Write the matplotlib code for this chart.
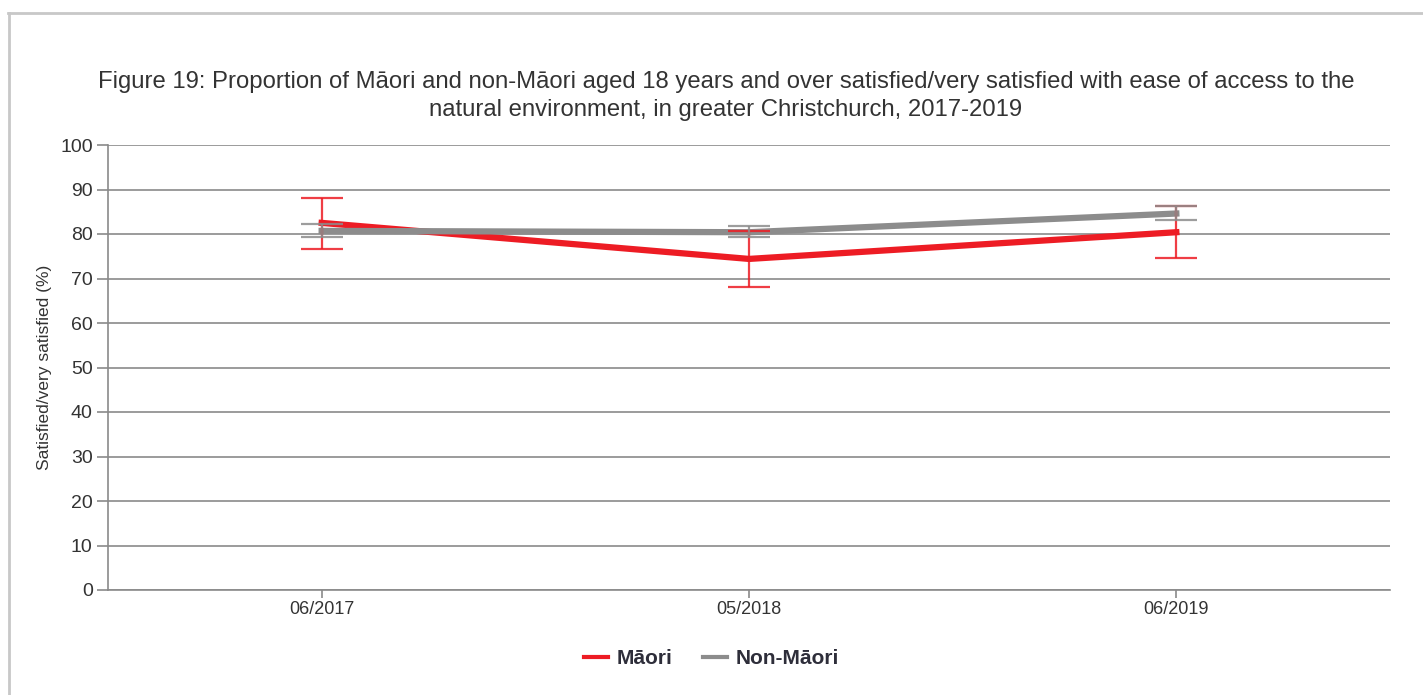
import numpy as np
import matplotlib.pyplot as plt
from matplotlib.lines import Line2D

# === DATA ===
periods = ["06/2017", "05/2018", "06/2019"]
maori = [82.5, 74.4, 80.4]
maori_lo = [76.6, 68.1, 74.6]
maori_hi = [88.2, 80.6, 86.4]
non_maori = [80.7, 80.4, 84.6]
non_maori_lo = [79.3, 79.3, 83.1]
non_maori_hi = [82.2, 81.8, 86.4]

RED = "#ed1c24"
GREY = "#8c8c8c"
GRID = "#8a8a8a"
TXT = "#333333"

plt.rcParams["font.family"] = ["Liberation Sans", "DejaVu Sans"]

W, H = 1423, 695
fig = plt.figure(figsize=(W / 100, H / 100), dpi=100)
ax = fig.add_axes([108 / W, 1 - 590 / H, (1390 - 108) / W, (590 - 145) / H])

x = np.arange(len(periods))

# === Lines with error bars ===
for vals, lo, hi, col in [(maori, maori_lo, maori_hi, RED),
                          (non_maori, non_maori_lo, non_maori_hi, GREY)]:
    vals = np.array(vals)
    yerr = [vals - np.array(lo), np.array(hi) - vals]
    ax.plot(x, vals, color=col, lw=4.5, solid_joinstyle="round", zorder=3)
    ax.errorbar(x, vals, yerr=yerr, fmt="none", ecolor=col, elinewidth=1.6,
                capsize=15, capthick=1.6, alpha=0.85, zorder=4)

ax.set_xlim(-0.5, len(periods) - 0.5)
ax.set_ylim(0, 100)
ax.set_yticks(range(0, 101, 10))
ax.set_xticks(x)
ax.set_xticklabels(periods)
ax.yaxis.grid(True, color=GRID, lw=1.2)
ax.set_axisbelow(True)
for s in ["top", "right"]:
    ax.spines[s].set_visible(False)
for s in ["left", "bottom"]:
    ax.spines[s].set_color(GRID)
    ax.spines[s].set_linewidth(1.2)
ax.tick_params(axis="y", length=8, color=GRID, width=1.2, labelsize=14, labelcolor=TXT, pad=3)
ax.tick_params(axis="x", length=6, color=GRID, width=1.2, labelsize=13, labelcolor=TXT, pad=2)

fig.text(45 / W, 1 - 367 / H, "Satisfied/very satisfied (%)", rotation=90,
         ha="center", va="center", fontsize=12.5, color=TXT)

fig.text(726 / W, 1 - 96 / H,
         "Figure 19: Proportion of Māori and non-Māori aged 18 years and over satisfied/very satisfied with ease of access to the\nnatural environment, in greater Christchurch, 2017-2019",
         ha="center", va="center", fontsize=17.2, color=TXT, linespacing=1.38)

# === Legend ===
handles = [Line2D([], [], color=RED, lw=3), Line2D([], [], color=GREY, lw=3)]
leg = fig.legend(handles, ["Māori", "Non-Māori"], loc="center",
                 bbox_to_anchor=(0.5, 1 - 659 / H), ncol=2, frameon=False,
                 prop={"weight": "bold", "size": 15}, handlelength=1.15,
                 handletextpad=0.4, columnspacing=1.5)
for t in leg.get_texts():
    t.set_color("#2e2e3a")

# === Outer border ===
bc = "#c8c8c8"
fig.add_artist(Line2D([8 / W, 1.0], [1 - 13 / H] * 2, color=bc, lw=2, transform=fig.transFigure))
fig.add_artist(Line2D([9 / W] * 2, [0, 1 - 13 / H], color=bc, lw=2, transform=fig.transFigure))

fig.savefig("out.png", dpi=100)
